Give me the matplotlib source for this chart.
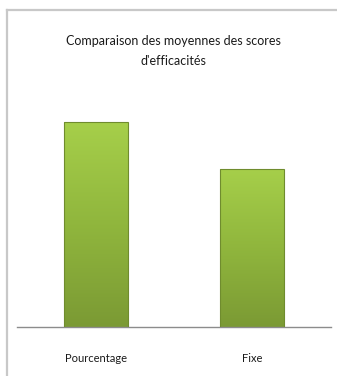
import numpy as np
import matplotlib.pyplot as plt
from matplotlib.colors import LinearSegmentedColormap

categories = ['Pourcentage', 'Fixe']
scores = [0.85, 0.656]
title = "Comparaison des moyennes des scores\nd'efficacités"

plt.rcParams['font.family'] = ['Lato', 'DejaVu Sans']

fig = plt.figure(figsize=(3.37, 3.76), dpi=100)

# light grey frame (chart area border), open on right and bottom
fig.add_artist(plt.Line2D([7 / 337, 7 / 337], [0, 1 - 10 / 376], color='#c8c8c8', lw=1.6))
fig.add_artist(plt.Line2D([7 / 337, 1], [1 - 10 / 376, 1 - 10 / 376], color='#c8c8c8', lw=1.6))

ax = fig.add_axes([17 / 337, 49 / 376, 314 / 337, 241 / 376])

green = LinearSegmentedColormap.from_list('g', ['#7b9a34', '#90b63d', '#a6cf4a'])
grad = np.linspace(0, 1, 256).reshape(-1, 1)

x = np.arange(len(categories))
bars = ax.bar(x, scores, width=0.41, color='none', edgecolor='#6f8c2e', linewidth=0.8, zorder=3)
for b in bars:
    x0, w, h = b.get_x(), b.get_width(), b.get_height()
    im = ax.imshow(grad, extent=[x0, x0 + w, 0, h], origin='lower', cmap=green,
                   aspect='auto', zorder=2)
    im.set_clip_path(b)

ax.set_xlim(-0.506, 1.506)
ax.set_ylim(0, 1)

for s in ['top', 'right', 'left']:
    ax.spines[s].set_visible(False)
ax.spines['bottom'].set_color('#8c8c8c')
ax.spines['bottom'].set_linewidth(1.0)
ax.set_yticks([])
ax.set_xticks(x)
ax.set_xticklabels(categories, fontsize=8, color='#1a1a1a')
ax.tick_params(axis='x', length=0, pad=19)

fig.text(173 / 337, 1 - 51 / 376, title, ha='center', va='center', fontsize=9,
         linespacing=1.85, color='#1a1a1a')

fig.savefig('out.png', dpi=100)
